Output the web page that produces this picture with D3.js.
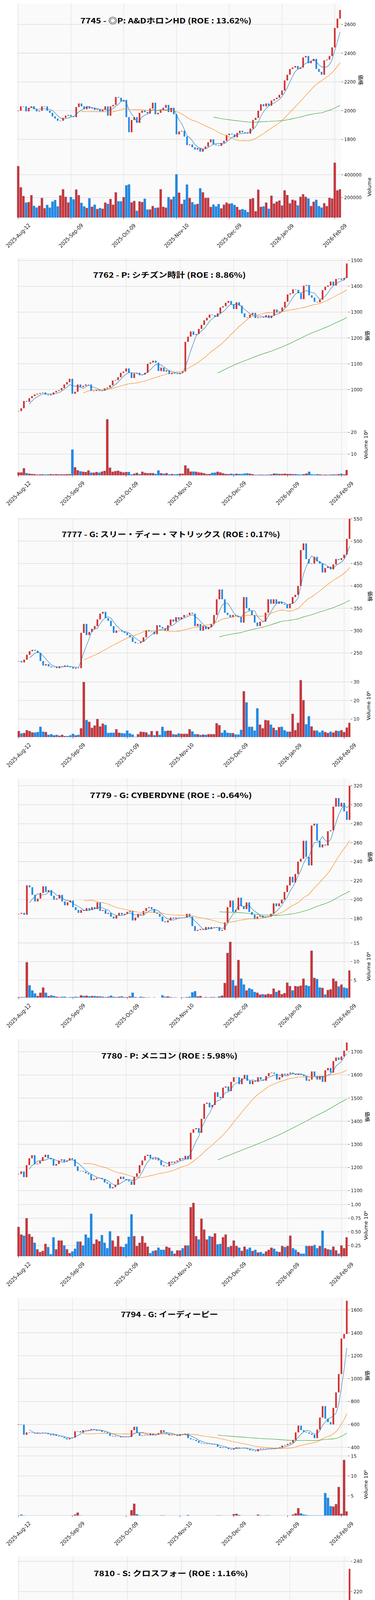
<!DOCTYPE html>
<html>
<head>
<meta charset="utf-8">
<script src="https://cdn.jsdelivr.net/npm/d3@7"></script>
<style>
  body { margin: 0; background: #fff; }
  svg { display: block; }
</style>
</head>
<body>
<div id="app"></div>
<script>
// ---- data ----
const titles = [
  '7745 - ◎P: A&DホロンHD (ROE : 13.62%)',
  '7762 - P: シチズン時計 (ROE : 8.86%)',
  '7777 - G: スリー・ディー・マトリックス (ROE : 0.17%)',
  '7779 - G: CYBERDYNE (ROE : -0.64%)',
  '7780 - P: メニコン (ROE : 5.98%)',
  '7794 - G: イーディーピー',
  '7810 - S: クロスフォー (ROE : 1.16%)',
  '7818 - P: トランザクション (ROE : 22.53%)',
  '7826 - P: フルヤ金属 (ROE : 11.62%)',
  '7888 - P: 三光合成 (ROE : 12.03%)'
]
const dateLabels = ['2025-Aug-12','2025-Sep-09','2025-Oct-09','2025-Nov-10','2025-Dec-09','2026-Jan-09','2026-Feb-09']
const dateTickIdx = [0,20,40,60,80,100,120]
const maWindows = [5,25,75]

const close7745 = [2000,2030,2030,1995,2020,2030,2010,1995,2000,2030,2030,2000,1985,1960,1945,1930,1930,1950,1965,1970,
  1960,1955,2025,2050,2030,2010,2030,2015,2020,2005,2010,1995,2005,2030,1965,2030,2040,2095,2090,2065,
  2075,1955,1850,1935,1955,1915,1985,2000,1990,1980,2015,2055,1975,1985,2005,2020,2040,1990,2020,1975,
  1835,1855,1860,1820,1760,1765,1745,1730,1740,1715,1735,1750,1780,1800,1765,1760,1755,1775,1790,1830,
  1840,1835,1815,1845,1860,1850,1845,1840,1875,1935,1950,2000,2045,2030,2050,2035,2070,2080,2090,2110,
  2140,2210,2250,2290,2300,2310,2290,2300,2370,2380,2330,2345,2360,2290,2270,2250,2350,2355,2380,2440,
  2575,2640,2700]
const vol7745 = [476,289,213,155,160,220,127,112,127,196,106,135,111,164,178,122,217,272,206,157,
  204,184,270,220,153,122,108,193,119,137,99,108,101,155,144,187,137,245,167,167,
  203,307,315,157,170,83,165,160,189,94,95,125,108,112,272,118,111,203,183,207,
  404,243,144,181,314,196,158,138,144,281,246,196,197,117,138,121,142,104,137,155,
  145,148,134,117,92,98,91,72,187,194,79,268,118,122,155,101,216,147,164,174,
  130,263,222,148,181,174,131,206,229,206,191,125,163,180,124,112,150,124,197,191,
  505,263,272]

const close7762 = [917,928,956,953,967,975,981,984,987,989,981,978,981,989,995,998,1006,1020,1029,1042,
  984,992,1020,1010,1015,1020,1020,995,995,998,995,996,1005,1008,1017,1035,1037,1048,1065,1070,
  1082,1065,1045,1062,1065,1056,1058,1065,1100,1105,1112,1104,1072,1085,1070,1075,1060,1065,1062,1060,
  1065,1070,1185,1205,1225,1212,1215,1235,1250,1268,1278,1290,1288,1282,1295,1318,1323,1336,1343,1330,
  1312,1338,1325,1295,1280,1278,1290,1297,1277,1280,1278,1280,1288,1277,1286,1310,1298,1302,1318,1340,
  1368,1372,1388,1386,1373,1350,1402,1405,1365,1356,1340,1338,1348,1385,1398,1403,1418,1403,1428,1430,
  1425,1432,1488]
const vol7762 = [1.6,1.6,3.5,1.3,1.0,0.9,0.8,0.6,0.7,0.7,0.6,0.7,0.8,0.7,0.8,0.7,0.7,0.7,0.8,0.8,
  12.1,4.0,2.6,2.1,1.9,1.8,2.5,1.5,1.5,1.8,1.5,2.0,2.3,26,3.8,1.9,2.2,2.4,1.9,1.6,
  1.8,1.8,0.7,1.0,1.4,0.8,1.9,1.4,1.2,1.3,1.3,0.9,2.5,1.2,1.0,1.3,0.7,0.9,0.7,0.8,
  1.0,1.0,4.8,3.4,2.0,2.0,1.9,1.6,1.5,1.2,0.8,0.9,1.4,1.5,1.9,1.6,1.2,0.9,0.8,1.0,
  0.8,1.0,0.9,0.9,1.1,1.2,1.0,0.8,0.5,0.5,0.6,0.5,0.5,0.6,0.7,1.1,1.0,0.9,0.9,1.0,
  0.9,0.9,0.8,0.8,0.7,0.6,0.8,1.1,1.9,0.7,0.6,0.8,0.7,0.5,0.6,0.5,0.6,0.7,0.6,0.8,
  1.0,0.7,2.7]

const close7777 = [232,229,235,246,254,257,255,250,232,222,225,220,218,219,216,220,220,222,220,218,
  215,217,216,295,315,290,297,304,310,325,338,342,328,322,310,295,300,300,298,295,
  290,285,275,272,272,275,285,300,298,298,292,312,308,305,300,312,325,320,330,325,
  330,335,335,340,338,310,315,300,310,303,308,315,335,370,392,370,340,335,330,335,
  333,330,318,375,350,345,335,318,310,320,320,340,370,360,370,360,365,360,358,350,
  360,375,380,400,480,495,460,450,450,465,455,450,430,440,443,437,448,460,458,462,
  470,505,550]
const vol7777 = [3.5,2.2,2.5,4,3.5,2.8,2.7,3,5.8,3.2,3,1.5,1.8,1.2,1.5,1,1.5,0.8,0.8,1.2,
  2,1.2,1.5,5,30,9.5,8.5,5.3,6.5,10,6,7.5,6.8,2.5,2.6,2.6,4.5,2.6,2.4,2.2,
  3.8,2.2,1.6,0.4,1.8,3.2,3,2.8,1.6,3.5,1.3,3.5,1.5,5.8,3.5,3.7,3.7,1.8,1.6,2.2,
  2,2,2,4.5,3.3,1.8,1.8,1.4,1.6,1.5,1.8,1.8,1.8,7.7,6.7,2.6,4,2.6,2.4,2.4,
  1.7,1.6,4.2,25,19,5.8,5.8,3.8,15.8,7,5,9.5,9.3,7,5.3,4,5.6,5.8,4,3.2,
  3.2,12.8,4,8,31,20.2,7.2,11.5,6,3.8,3.8,2.8,3.8,3,2.5,3.2,2.7,3.7,3.5,4,
  3,5.4,8]

const close7779 = [185,186,184,215,213,205,198,201,207,214,208,210,204,200,201,205,198,194,197,199,
  192,189,186,189,188,191,189,192,190,197,188,189,185,186,182,180,183,186,184,185,
  187,188,178,181,185,184,188,191,192,190,186,185,182,177,176,178,181,180,181,181,
  181,181,185,182,172,167,168,169,168,171,169,171,171,171,167,168,176,192,199,187,
  189,202,193,190,197,187,184,180,182,183,181,182,182,185,196,193,196,200,208,215,
  224,218,227,240,243,262,245,236,278,280,262,255,258,257,272,273,298,307,298,302,
  293,284,320]
const vol7779 = [0.4,0.4,0.4,9.8,3.6,2.2,1.4,0.7,1.6,3,1.6,0.7,0.9,0.7,0.5,0.4,0.5,0.5,0.3,0.4,
  0.4,0.5,0.4,0.9,0.7,0.8,0.6,0.7,0.7,0.6,0.6,0.5,0.4,0.5,0.8,0.5,0.4,0.5,0.6,0.4,
  0.4,0.6,1.6,0.4,0.3,0.5,0.4,0.3,0.3,0.2,0.3,0.2,0.2,0.9,0.5,0.6,0.4,0.3,0.3,0.2,
  0.3,0.3,0.4,0.5,1.7,2,0.6,0.7,0.3,0.4,0.3,0.4,0.4,0.3,0.6,0.8,4.2,12.3,15.3,5,
  3.5,10.4,5.4,3.8,2.2,2.8,2.5,1.8,1.6,1.1,1.2,1.1,1.3,1.2,2.7,1.8,2.2,1.2,1.5,4.3,
  3.4,2.2,3.4,3.3,3.5,5.4,3.6,3.4,12.9,5.6,5.3,3,2.9,1.1,2.3,2.5,5.4,4.7,3.3,3.8,
  3,2.8,7.6]

const close7780 = [1172,1183,1158,1210,1240,1253,1214,1217,1228,1245,1255,1240,1235,1208,1215,1230,1235,1225,1230,1240,
  1235,1205,1185,1185,1182,1175,1170,1145,1150,1155,1155,1150,1135,1130,1110,1115,1125,1150,1160,1150,
  1145,1140,1125,1160,1175,1210,1230,1250,1255,1240,1235,1240,1230,1210,1205,1205,1225,1220,1225,1230,
  1240,1235,1250,1235,1350,1365,1370,1350,1410,1475,1480,1460,1470,1525,1505,1500,1545,1550,1530,1570,
  1590,1590,1560,1585,1600,1575,1560,1575,1570,1590,1580,1575,1595,1608,1610,1605,1580,1590,1605,1600,
  1605,1610,1605,1600,1605,1600,1595,1575,1580,1615,1595,1580,1595,1570,1620,1630,1610,1660,1675,1665,
  1680,1705,1740]
const vol7780 = [.59,.45,.43,.75,.46,.41,.30,.18,.13,.15,.28,.22,.09,.40,.18,.34,.34,.25,.18,.11,
  .14,.19,.32,.32,.25,.45,.39,.83,.28,.36,.33,.44,.30,.20,.51,.34,.23,.42,.23,.22,
  .28,.41,.82,.42,.24,.30,.42,.30,.23,.11,.15,.16,.21,.17,.17,.23,.21,.15,.10,.16,
  .16,.20,.25,.25,.95,1.03,.42,.36,.74,.54,.36,.42,.41,.47,.27,.28,.40,.45,.22,.24,
  .34,.24,.21,.15,.23,.18,.21,.15,.17,.12,.13,.10,.14,.17,.21,.19,.14,.13,.24,.22,
  .24,.43,.20,.17,.13,.10,.10,.24,.24,.24,.26,.20,.24,.52,.20,.18,.17,.23,.16,.10,
  .25,.20,.40]

const close7794 = [600,598,510,530,530,528,522,522,522,528,525,515,505,512,500,495,490,480,470,480,
  485,540,540,530,550,550,552,560,555,545,548,535,530,522,500,495,500,497,488,490,
  492,490,550,580,525,500,505,510,505,520,505,510,525,550,530,520,505,510,510,500,
  515,510,520,480,470,465,455,440,435,430,432,428,428,425,405,395,400,395,385,380,
  390,400,395,395,390,385,375,370,365,385,390,385,388,385,387,390,395,400,415,420,
  430,440,465,530,590,550,535,530,520,510,480,555,660,760,650,620,600,745,880,1040,
  1350,1390,1680]
const vol7794 = [.05,.3,.1,.05,.05,.05,.05,.05,.05,.05,.05,.05,.05,.05,.05,.05,.05,.05,.05,.05,
  .05,.3,.8,.1,.05,.05,.05,.05,.05,.05,.05,.05,.05,.05,.05,.05,.05,.05,.05,.05,
  .05,.05,1.4,3.0,.4,.1,.05,.05,.05,.05,.05,.05,.05,.1,.1,.05,.05,.05,.05,.05,
  .05,.05,.05,.2,.05,.05,.05,.05,.05,.05,.05,.05,.05,.05,.1,.1,.05,.05,.05,.05,
  .4,.5,.2,.05,.05,.05,.05,.05,.05,.3,.1,.05,.1,.1,.05,.05,.05,.05,.05,.05,
  .05,.05,.3,.6,1.9,.6,.3,.2,.1,.1,.1,.1,.1,.1,5.7,4.5,2.4,2.3,2.9,7.2,
  .5,14,1.1]

const close7810 = [158,158,158,158,158,165,163,163,162,163,163,162,162,164,165,162,161,161,161,161,
  161,161,160,163,161,160,160,159,158,157,156,156,156,156,156,155,156,155,156,156,
  155,153,151,151,153,153,155,155,154,154,154,155,154,152,152,151,153,152,152,151,
  151,151,152,152,152,151,150,150,150,150,150,151,151,151,151,151,150,150,150,150,
  150,149,149,149,149,148,145,143,142,141,141,142,142,143,145,147,146,146,145,146,
  146,147,146,146,148,148,149,149,149,148,147,162,211,165,159,156,156,189,184,175,
  192,194,235]
const vol7810 = [.02,.02,.02,.02,.02,.4,.05,.1,.02,.02,.02,.02,.02,.02,.02,.02,.02,.02,.02,.02,
  .02,.02,.02,.1,.1,.02,.02,.02,.02,.05,.02,.02,.02,.02,.02,.02,.02,.02,.02,.02,
  .05,.05,.02,.02,.02,.02,.02,.02,.02,.02,.02,.02,.02,.02,.02,.02,.02,.02,.02,.02,
  .03,.03,.03,.03,.03,.03,.03,.03,.03,.03,.03,.03,.03,.03,.03,.03,.03,.03,.03,.03,
  .03,.03,.03,.03,.03,.2,.1,.05,.1,.05,.05,.03,.03,.03,.03,.03,.03,.03,.03,.03,
  .03,.03,.03,.03,.03,.03,.03,.03,.03,.03,.03,.1,2.0,3.3,.8,.3,.15,7.2,1.6,.8,
  4.4,.6,6.5]

const close7818 = [1195,1190,1170,1160,1168,1170,1177,1185,1185,1177,1180,1185,1225,1240,1230,1205,1175,1190,1175,1190,
  1205,1202,1190,1190,1220,1240,1255,1250,1245,1265,1230,1270,1240,1215,1150,1125,1145,1140,1120,1145,
  1150,1140,1130,1110,1025,1010,1035,1020,1040,1030,1040,1055,1040,1005,1005,1020,1010,1020,1050,1050,
  1075,1080,1090,1080,1080,1075,1060,1065,1060,1070,1065,1065,1075,1090,1080,1090,1060,1060,1055,1050,
  1058,1070,1050,1050,1065,1050,1055,1065,1075,1070,1060,1075,1100,1110,1125,1105,1130,1140,1130,1135,
  1140,1130,1120,1160,1165,1170,1190,1185,1190,1200,1230,1245,1225,1195,1190,1210,1220,1230,1225,1230,
  1250,1260,1285]
const vol7818 = [560,260,230,440,320,240,210,290,275,215,180,460,255,200,150,190,190,200,250,210,
  175,100,90,125,135,190,130,190,70,360,350,170,105,150,200,110,105,150,125,140,
  190,115,160,170,530,350,290,180,185,145,130,130,135,200,100,80,130,300,200,165,
  125,90,135,130,100,80,100,90,125,65,80,80,100,95,80,95,135,115,70,105,
  210,140,115,90,60,100,95,65,85,195,115,85,80,245,165,200,210,165,180,95,
  215,195,360,140,135,125,100,100,60,100,250,130,205,150,150,145,90,145,280,195,
  280,190,310]

const close7826 = [2265,2280,2270,2285,2290,2300,2290,2290,2340,2400,2420,2410,2430,2440,2445,2480,2520,2540,2600,2640,
  2650,2680,2730,2780,2880,2900,2905,2920,2910,2915,2915,2910,2890,2840,2770,2780,2800,2830,2800,2800,
  2810,2790,2720,2800,2870,2850,2880,2905,2890,2930,2960,2980,2940,2890,2860,2850,2840,2760,2740,3150,
  3400,3420,3400,3420,3130,3180,3140,3050,3130,3060,3110,3110,3190,3220,3240,3150,3210,3260,3240,3300,
  3270,3280,3200,3230,3200,3130,3130,3080,3140,3370,3360,3450,3500,3520,3580,3530,3540,3580,3640,3730,
  3740,3850,3930,4000,4040,3960,3890,3790,3870,3920,4030,4200,4220,4350,4220,4000,4250,4270,4240,4280,
  5000,5700,6750]
const vol7826 = [.65,.37,.26,.25,.27,.29,.22,.47,.44,.30,.24,.28,.34,.31,.35,.37,.33,.37,.29,.17,
  .29,.34,.38,.33,.22,.27,.29,.23,.23,.17,.18,.25,.22,.21,.22,.18,.25,.24,.20,.21,
  .25,.22,.15,.24,.28,.12,.14,.15,.12,.17,.15,.12,.10,.14,.12,.10,.18,.30,.25,2.9,
  1.8,.63,.45,.29,.52,.30,.28,.25,.63,.18,.20,.15,.16,.12,.13,.12,.15,.13,.08,.06,
  .10,.06,.08,.10,.14,.08,.12,.18,.40,.12,.24,.18,.20,.20,.15,.22,.30,.33,.22,.25,
  .23,.22,.20,.26,.25,.22,.27,.25,.25,.60,.55,.70,.50,.60,.40,.30,.50,.35,.45,.45,
  .08,.35,2.4]

const close7888 = [845,865,890,900,900,885,878,880,890,890,895,893,895,898,885,880,875,875,888,900,
  918,920,905,905,895,890,885,875,870,868,868,865,855,850,818,815,835,865,870,885,
  890,825,810,820,830,820,835,840,850,870,875,865,845,830,820,825,835,828,830,825,
  830,832,845,847,825,820,810,805,812,810,815,825,830,833,835,820,815,825,835,842,
  838,840,830,835,835,825,822,825,838,855,865,860,868,872,885,890,900,920,930,935,
  915,905,1040,1050,1065,1060,1030,1010,1030,1025,975,970,955,955,958,960,1000,1015,1030,1035,
  1030,1040,1085]
const vol7888 = [.18,.22,.23,.21,.12,.15,.12,.08,.10,.07,.06,.09,.05,.12,.14,.11,.12,.09,.08,.16,
  .11,.08,.12,.04,.18,.06,.10,.05,.12,.07,.07,.06,.10,.14,.10,.12,.10,.12,.16,.10,
  .37,.51,.25,.10,.10,.09,.10,.08,.06,.12,.10,.10,.11,.12,.09,.07,.10,.06,.08,.03,
  .04,.03,.04,.05,.02,.06,.10,.17,.12,.04,.09,.34,.15,.06,.14,.06,.11,.04,.06,.19,
  .20,.06,.07,.06,.06,.05,.10,.05,.08,.10,.09,.04,.04,.04,.04,.12,.06,.12,.08,.10,
  .10,.24,.98,.51,.20,.17,.14,.14,.07,.14,.07,.13,.07,.07,.09,.11,.09,.08,.06,.10,
  .06,.08,.20]

const closes = [close7745,close7762,close7777,close7779,close7780,close7794,close7810,close7818,close7826,close7888]
const volumes = [vol7745,vol7762,vol7777,vol7779,vol7780,vol7794,vol7810,vol7818,vol7826,vol7888]
// volume arrays are in thousands (k) or millions (M)
const volUnit = ['k','M','M','M','M','M','M','k','M','M']
const priceDomains = [[1683,2745],[907,1510],[202.5,551],[162.5,327.6],[1083,1755],[346,1707],[140,243.3],[994,1302],[2183,6983],[795.7,1090]]
const priceTicks = [[1800,2600,200],[1000,1500,100],[250,550,50],[180,320,20],[1100,1700,100],[400,1600,200],[140,240,20],[1000,1300,50],[3000,6000,1000],[800,1050,50]]
const volDomains = [[24,559],[0.25,28.4],[0.27,34],[0.27,17],[0.053,1.176],[0.04,15.5],[0.07,8],[23,645],[0.03,3.16],[0.011,1.09]]
const volTicks = [[200,400],[10,20],[10,20,30],[5,10,15],[.25,.5,.75,1],[5,10,15],[2,4,6,8],[200,400,600],[1,2,3],[.25,.5,.75,1]]

// ---- layout (px, relative to each 662px slot) ----
const PH = 662
const layout = [
  {top:9,  mid:400, bot:557, left:46.5, xFeb:857, titleY:51,   titleW:438},
  {top:-2, mid:397, bot:555, left:47.4, xFeb:874, titleY:40,   titleW:391},
  {top:3,  mid:402, bot:563, left:48,   xFeb:881, titleY:42.5, titleW:559},
  {top:7,  mid:408, bot:568, left:48,   xFeb:881, titleY:48,   titleW:415},
  {top:12, mid:410, bot:568, left:47.4, xFeb:874, titleY:53.6, titleW:349},
  {top:12, mid:411, bot:570, left:47.4, xFeb:874, titleY:53.6, titleW:249},
  {top:12, mid:414, bot:574, left:48,   xFeb:881, titleY:54.8, titleW:395},
  {top:22, mid:413, bot:569, left:46.5, xFeb:857, titleY:63,   titleW:437},
  {top:10, mid:409, bot:568, left:47.4, xFeb:874, titleY:51.8, titleW:385},
  {top:9,  mid:408, bot:568, left:47.4, xFeb:874, titleY:50.7, titleW:364}
]

const UP = '#d3302f', DOWN = '#1e88e5'
const maColors = ['#1f77b4','#ff7f0e','#2ca02c']
const tickFont = '"DejaVu Sans Condensed", "DejaVu Sans", sans-serif'

const svg = d3.select('#app').append('svg')
  .attr('width', 960).attr('height', PH * titles.length)

function movingAvg(values, n){
  const out = []
  for (let i = n - 1; i < values.length; i++) {
    out.push({i: i, v: d3.mean(values.slice(i - n + 1, i + 1))})
  }
  return out
}

function drawPanel(k){
  const L = layout[k]
  const right = L.xFeb + 16
  const g = svg.append('g').attr('transform', `translate(0,${k * PH})`)
  const c = closes[k], v = volumes[k]
  const candles = c.map((cl, i) => ({i: i, o: i === 0 ? cl : c[i - 1], c: cl, v: v[i]}))

  const x = d3.scaleLinear().domain([0, 120]).range([L.left, L.xFeb])
  const step = (L.xFeb - L.left) / 120
  const y = d3.scaleLinear().domain(priceDomains[k]).range([L.mid, L.top])
  const yv = d3.scaleLinear().domain(volDomains[k]).range([L.bot, L.mid + 1])

  // backgrounds
  g.append('rect').attr('x', L.left - 3).attr('y', L.top).attr('width', right - L.left + 3)
    .attr('height', L.mid - L.top).attr('fill', '#fafafa')
  g.append('rect').attr('x', L.left - 3).attr('y', L.mid + 1).attr('width', right - L.left + 3)
    .attr('height', L.bot - L.mid - 1).attr('fill', '#fafafa')

  const clipId = 'clip' + k
  g.append('clipPath').attr('id', clipId).append('rect')
    .attr('x', L.left - 3).attr('y', L.top).attr('width', right - L.left + 3).attr('height', L.bot - L.top)

  // grid
  const pt = priceTicks[k]
  const pTicks = d3.range(pt[0], pt[1] + pt[2] / 2, pt[2])
  g.append('g').selectAll('line').data(pTicks).enter().append('line')
    .attr('x1', L.left - 3).attr('x2', right).attr('y1', d => y(d)).attr('y2', d => y(d))
    .attr('stroke', '#d9d9d9').attr('stroke-width', 1.3)
  g.append('g').selectAll('line').data(volTicks[k]).enter().append('line')
    .attr('x1', L.left - 3).attr('x2', right).attr('y1', d => yv(d)).attr('y2', d => yv(d))
    .attr('stroke', '#d9d9d9').attr('stroke-width', 1.3)
  g.append('g').selectAll('line').data(dateTickIdx).enter().append('line')
    .attr('x1', d => x(d)).attr('x2', d => x(d)).attr('y1', L.top).attr('y2', L.bot)
    .attr('stroke', '#dcdcdc').attr('stroke-width', 1)

  const body = g.append('g').attr('clip-path', `url(#${clipId})`)

  // volume bars
  const vw = step * 0.86
  body.append('g').selectAll('rect').data(candles).enter().append('rect')
    .attr('x', d => x(d.i) - vw / 2).attr('width', vw)
    .attr('y', d => Math.min(yv(d.v), L.bot))
    .attr('height', d => Math.max(0, L.bot - yv(d.v)))
    .attr('fill', d => d.c >= d.o ? UP : DOWN)
    .attr('stroke', '#5b95d0').attr('stroke-width', 0.5)

  // candles
  const cw = step * 0.62
  body.append('g').selectAll('rect').data(candles).enter().append('rect')
    .attr('x', d => x(d.i) - cw / 2).attr('width', cw)
    .attr('y', d => y(Math.max(d.o, d.c)))
    .attr('height', d => Math.max(1, Math.abs(y(d.o) - y(d.c))))
    .attr('fill', d => d.c >= d.o ? UP : DOWN)

  // moving averages
  maWindows.forEach((n, j) => {
    const ma = movingAvg(c, n)
    body.append('path').datum(ma)
      .attr('d', d3.line().x(d => x(d.i)).y(d => y(d.v)))
      .attr('fill', 'none').attr('stroke', maColors[j]).attr('stroke-width', 1.1)
  })

  // price axis (right)
  const pa = g.append('g').attr('font-family', tickFont).attr('font-size', 13).attr('fill', '#222')
  pTicks.forEach(t => {
    pa.append('line').attr('x1', right + 1).attr('x2', right + 5).attr('y1', y(t)).attr('y2', y(t)).attr('stroke', '#333')
    pa.append('text').attr('x', right + 8).attr('y', y(t)).attr('dominant-baseline', 'central').text(t)
  })
  const vfmt = volUnit[k] === 'k' ? (d => String(d * 1000)) : (volTicks[k][0] < 1 ? d3.format('.2f') : d3.format('d'))
  volTicks[k].forEach(t => {
    pa.append('line').attr('x1', right + 1).attr('x2', right + 5).attr('y1', yv(t)).attr('y2', yv(t)).attr('stroke', '#333')
    pa.append('text').attr('x', right + 8).attr('y', yv(t)).attr('dominant-baseline', 'central').text(vfmt(t))
  })

  const priceMid = (L.top + L.mid) / 2, volMid = (L.mid + L.bot) / 2
  g.append('text').attr('transform', `translate(${right + 51},${priceMid}) rotate(90)`)
    .attr('text-anchor', 'middle').attr('dominant-baseline', 'central')
    .attr('font-family', '"Noto Sans CJK JP"').attr('font-size', 13).text('価格')
  const volX = volUnit[k] === 'k' ? right + 72 : right + 46
  g.append('text').attr('transform', `translate(${volX},${volMid}) rotate(-90)`)
    .attr('text-anchor', 'middle').attr('dominant-baseline', 'central')
    .attr('font-family', '"DejaVu Sans", sans-serif').attr('font-size', 13)
    .text(volUnit[k] === 'k' ? 'Volume' : 'Volume  10⁶')

  // date axis
  const da = g.append('g').attr('font-family', tickFont).attr('font-size', 14).attr('fill', '#222')
  dateTickIdx.forEach((t, j) => {
    da.append('line').attr('x1', x(t)).attr('x2', x(t)).attr('y1', L.bot).attr('y2', L.bot + 4).attr('stroke', '#333')
    da.append('text').attr('transform', `translate(${x(t)},${L.bot + 46}) rotate(-45)`)
      .attr('text-anchor', 'middle').attr('dominant-baseline', 'central').text(dateLabels[j])
  })

  // title
  g.append('text').attr('x', (L.left + right) / 2 - 35).attr('y', L.titleY)
    .attr('text-anchor', 'middle').attr('dominant-baseline', 'central')
    .attr('font-family', '"Noto Sans CJK JP", sans-serif').attr('font-weight', 'bold').attr('font-size', 19)
    .attr('textLength', L.titleW).attr('lengthAdjust', 'spacingAndGlyphs')
    .text(titles[k])
}

titles.forEach((t, k) => drawPanel(k))
</script>
</body>
</html>
